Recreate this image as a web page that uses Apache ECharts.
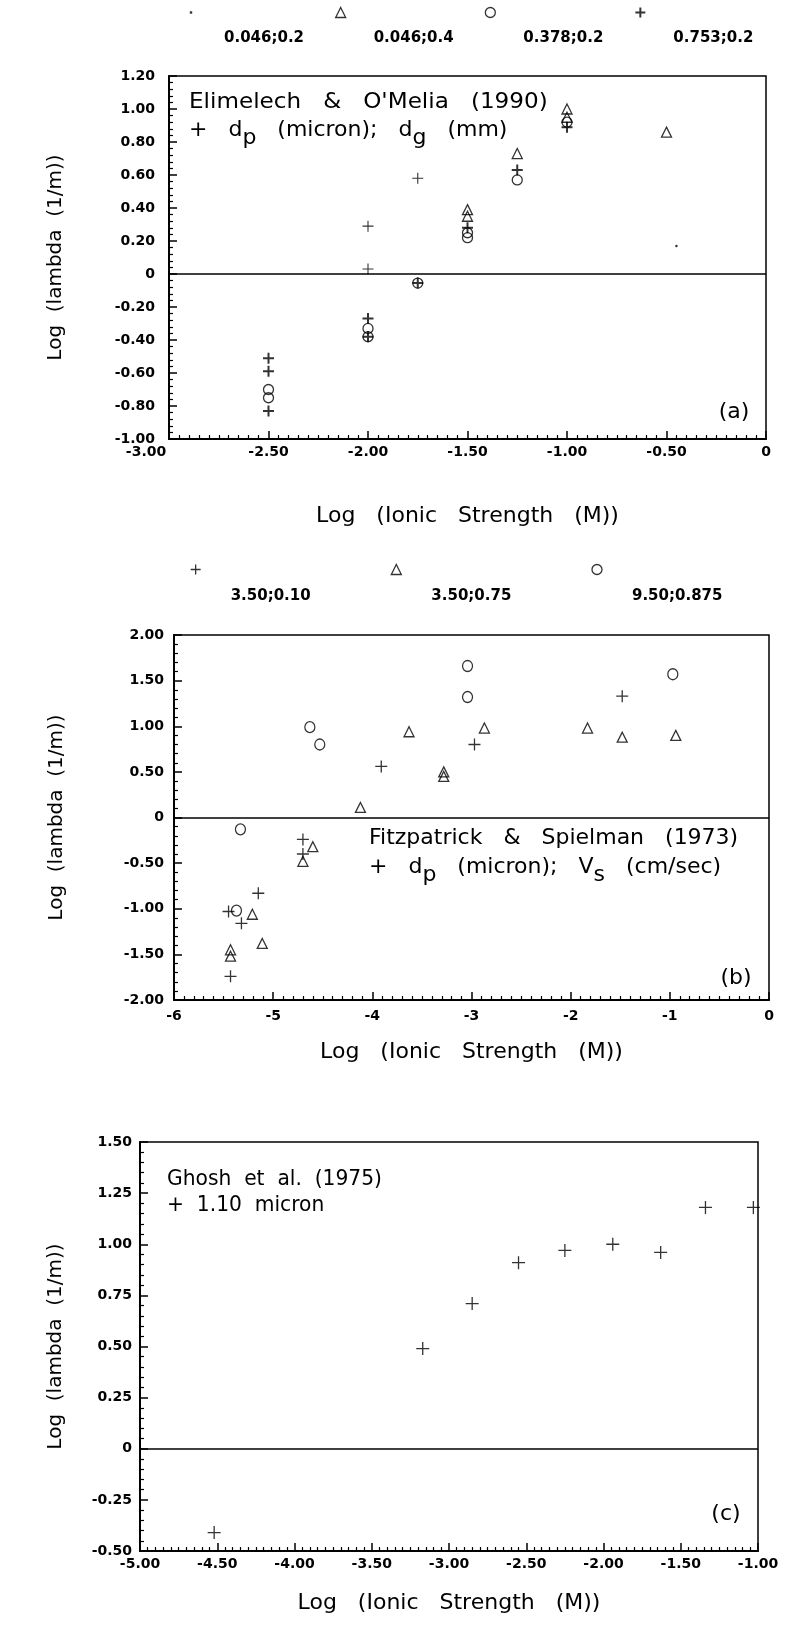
<!DOCTYPE html>
<html><head><meta charset="utf-8">
<script src="https://cdn.jsdelivr.net/npm/echarts@6/dist/echarts.min.js"></script>
<style>html,body{margin:0;padding:0;background:#fff}#c{width:790px;height:1642px}</style>
</head><body><div id="c"></div>
<script>
// ---------- Panel (a): Elimelech & O'Melia (1990) ----------
const aLegend = ['0.046;0.2', '0.046;0.4', '0.378;0.2', '0.753;0.2'];
const aDot = [[-0.45, 0.17]];
const aTri = [[-1.5, 0.39], [-1.5, 0.35], [-1.25, 0.73], [-1.0, 1.00], [-1.0, 0.95], [-0.5, 0.86]];
const aCirc = [[-2.5, -0.70], [-2.5, -0.75], [-2.0, -0.33], [-2.0, -0.38], [-1.75, -0.055], [-1.5, 0.25], [-1.5, 0.22], [-1.25, 0.57], [-1.0, 0.92]];
const aPlus = [[-2.5, -0.51], [-2.5, -0.59], [-2.5, -0.83], [-2.0, -0.27], [-2.0, -0.38], [-1.75, -0.055], [-1.5, 0.28], [-1.25, 0.63], [-1.0, 0.89]];
const aPlusThin = [[-2.0, 0.29], [-2.0, 0.03], [-1.75, 0.58]];
const aXTicks = ['-3.00', '-2.50', '-2.00', '-1.50', '-1.00', '-0.50', '0'];
const aYTicks = ['-1.00', '-0.80', '-0.60', '-0.40', '-0.20', '0', '0.20', '0.40', '0.60', '0.80', '1.00', '1.20'];

// ---------- Panel (b): Fitzpatrick & Spielman (1973) ----------
const bLegend = ['3.50;0.10', '3.50;0.75', '9.50;0.875'];
const bPlus = [[-5.43, -1.74], [-5.45, -1.03], [-5.32, -1.16], [-5.15, -0.83], [-4.70, -0.24], [-4.70, -0.40], [-3.91, 0.56], [-2.97, 0.80], [-1.48, 1.33]];
const bTri = [[-5.43, -1.45], [-5.43, -1.52], [-5.21, -1.06], [-5.11, -1.38], [-4.70, -0.48], [-4.60, -0.32], [-4.12, 0.11], [-3.63, 0.94], [-3.28, 0.50], [-3.28, 0.45], [-2.87, 0.98], [-1.83, 0.98], [-1.48, 0.88], [-0.94, 0.90]];
const bCirc = [[-5.37, -1.02], [-5.33, -0.13], [-4.63, 0.99], [-4.53, 0.80], [-3.04, 1.66], [-3.04, 1.32], [-0.97, 1.57]];
const bXTicks = ['-6', '-5', '-4', '-3', '-2', '-1', '0'];
const bYTicks = ['-2.00', '-1.50', '-1.00', '-0.50', '0', '0.50', '1.00', '1.50', '2.00'];

// ---------- Panel (c): Ghosh et al. (1975) ----------
const cName = '1.10 micron';
const cPlus = [[-4.52, -0.41], [-3.17, 0.49], [-2.85, 0.71], [-2.55, 0.91], [-2.25, 0.97], [-1.94, 1.00], [-1.63, 0.96], [-1.34, 1.18], [-1.03, 1.18]];
const cXTicks = ['-5.00', '-4.50', '-4.00', '-3.50', '-3.00', '-2.50', '-2.00', '-1.50', '-1.00'];
const cYTicks = ['-0.50', '-0.25', '0', '0.25', '0.50', '0.75', '1.00', '1.25', '1.50'];

const xTitle = 'Log   (Ionic   Strength   (M))';
const yTitle = 'Log  (lambda  (1/m))';

// ---------- styling ----------
const BLACK = '#000';
const FONT = 'DejaVu Sans';
const PLUS = 'path://M5,0L5,10M0,5L10,5';
const DOT = 'path://M0,0M10,10M3.8,3.8L6.2,3.8L6.2,6.2L3.8,6.2Z';
const hollow = {color: 'transparent', borderColor: BLACK, borderWidth: 1.3};
const tickFont = {fontFamily: FONT, fontWeight: 'bold', fontSize: 14, color: BLACK};

function fmt(labels, min, interval, shiftFirst) {
  return v => {
    const i = Math.round((v - min) / interval);
    const s = labels[i];
    if (s === undefined) return '';
    return (shiftFirst && i === 0) ? '{l|' + s + '}' : s;
  };
}
function xAx(i, min, max, interval, labels, nameGap, margin, shiftFirst) {
  return {
    type: 'value', gridIndex: i, min, max, interval,
    name: xTitle, nameLocation: 'middle', nameGap,
    nameTextStyle: {fontFamily: FONT, fontSize: 22, color: BLACK},
    axisLine: {show: true, onZero: false, lineStyle: {color: BLACK, width: 2}},
    axisTick: {show: true, inside: true, length: 8, lineStyle: {color: BLACK, width: 1.5}},
    minorTick: {show: true, splitNumber: 10, length: 4, lineStyle: {color: BLACK, width: 1.2}},
    splitLine: {show: false}, minorSplitLine: {show: false},
    axisLabel: Object.assign({show: true, margin, showMinLabel: true, showMaxLabel: true,
      formatter: fmt(labels, min, interval, shiftFirst),
      rich: {l: Object.assign({padding: [0, 46, 0, 0]}, tickFont)}}, tickFont)
  };
}
function yAx(i, min, max, interval, labels, nameGap, margin) {
  return {
    type: 'value', gridIndex: i, min, max, interval,
    name: yTitle, nameLocation: 'middle', nameGap, nameRotate: 90,
    nameTextStyle: {fontFamily: FONT, fontSize: 20, color: BLACK},
    axisLine: {show: true, onZero: false, lineStyle: {color: BLACK, width: 2}},
    axisTick: {show: true, inside: true, length: 8, lineStyle: {color: BLACK, width: 1.5}},
    minorTick: {show: true, splitNumber: 5, length: 4, lineStyle: {color: BLACK, width: 1.2}},
    splitLine: {show: false}, minorSplitLine: {show: false},
    axisLabel: Object.assign({show: true, margin, showMinLabel: true, showMaxLabel: true,
      formatter: fmt(labels, min, interval, false)}, tickFont)
  };
}
const zeroLine = {
  silent: true, symbol: ['none', 'none'], animation: false, label: {show: false},
  lineStyle: {color: BLACK, type: 'solid', width: 1.5}, emphasis: {disabled: true},
  data: [{yAxis: 0}]
};
function sc(name, gi, data, symbol, size, itemStyle, extra) {
  return Object.assign({
    type: 'scatter', name, xAxisIndex: gi, yAxisIndex: gi, data, symbol, symbolSize: size,
    itemStyle, emphasis: {disabled: true}, z: 3
  }, extra || {});
}
const gridBase = {show: true, borderColor: BLACK, borderWidth: 1.5, backgroundColor: 'transparent', containLabel: false, outerBoundsMode: 'none'};
function legendRich(padTop, padLeft) {
  return {color: BLACK, rich: {t: {fontFamily: FONT, fontWeight: 'bold', fontSize: 15, color: BLACK, lineHeight: 18, padding: [padTop, 0, 0, padLeft]}}};
}
const noteFont = {fontFamily: FONT, fontSize: 22, fill: BLACK};
function note(x, y, text, sx) {
  return {type: 'text', x, y, scaleX: sx || 1, silent: true, style: Object.assign({text, verticalAlign: 'middle'}, noteFont)};
}
function subNote(x, y, text) {
  return {type: 'text', x, y, silent: true, style: {
    text, verticalAlign: 'middle',
    rich: {
      n: Object.assign({lineHeight: 26}, noteFont),
      s: Object.assign({lineHeight: 26, padding: [16, 0, 0, 0]}, noteFont)
    }}};
}

const option = {
  animation: false,
  backgroundColor: '#fff',
  textStyle: {fontFamily: FONT, color: BLACK},
  grid: [
    Object.assign({left: 169, top: 76, width: 597, height: 363}, gridBase),
    Object.assign({left: 174, top: 635, width: 595, height: 365}, gridBase),
    Object.assign({left: 140, top: 1142, width: 618, height: 409}, gridBase)
  ],
  xAxis: [
    xAx(0, -3, 0, 0.5, aXTicks, 66, 6, true),
    xAx(1, -6, 0, 1, bXTicks, 41, 9, false),
    xAx(2, -5, -1, 0.5, cXTicks, 41, 6, false)
  ],
  yAxis: [
    yAx(0, -1, 1.2, 0.2, aYTicks, 103, 14),
    yAx(1, -2, 2, 0.5, bYTicks, 107, 10),
    yAx(2, -0.5, 1.5, 0.25, cYTicks, 74, 8)
  ],
  legend: [
    {
      data: aLegend.map((n, k) => ({
        name: n, icon: [DOT, 'triangle', 'circle', PLUS][k],
        itemStyle: k === 0 ? {color: BLACK, borderWidth: 0} : (k === 3 ? {color: BLACK, borderColor: BLACK, borderWidth: 2} : hollow)
      })),
      left: 186, top: -21, padding: 0, orient: 'horizontal',
      itemWidth: 10, itemHeight: 10, itemGap: 31, selectedMode: false,
      formatter: n => '{t|' + n + '}',
      textStyle: legendRich(52, 23)
    },
    {
      data: bLegend.map((n, k) => ({
        name: n, icon: [PLUS, 'triangle', 'circle'][k],
        itemStyle: k === 0 ? {color: BLACK, borderColor: BLACK, borderWidth: 1.3} : hollow
      })),
      left: 190, top: 535, padding: 0, orient: 'horizontal',
      itemWidth: 10, itemHeight: 10, itemGap: 80, selectedMode: false,
      formatter: n => '{t|' + n + '}',
      textStyle: legendRich(54, 25)
    }
  ],
  series: [
    sc(aLegend[0], 0, aDot, 'circle', 2.5, {color: BLACK}, {markLine: zeroLine}),
    sc(aLegend[1], 0, aTri, 'triangle', 10, hollow),
    sc(aLegend[2], 0, aCirc, 'circle', 10, hollow),
    sc(aLegend[3], 0, aPlus, PLUS, 11, {color: BLACK, borderColor: BLACK, borderWidth: 2}),
    sc(aLegend[3], 0, aPlusThin, PLUS, 11, {color: BLACK, borderColor: BLACK, borderWidth: 1.1}),
    sc(bLegend[0], 1, bPlus, PLUS, 12, {color: BLACK, borderColor: BLACK, borderWidth: 1.3}, {markLine: zeroLine}),
    sc(bLegend[1], 1, bTri, 'triangle', 10, hollow),
    sc(bLegend[2], 1, bCirc, 'circle', [10, 11], hollow),
    sc(cName, 2, cPlus, PLUS, 13, {color: BLACK, borderColor: BLACK, borderWidth: 1.3}, {markLine: zeroLine})
  ],
  graphic: [
    note(189, 102, "Elimelech   &   O'Melia   (1990)", 1.05),
    subNote(189, 130, '{n|+   d}{s|p}{n|   (micron);   d}{s|g}{n|   (mm)}'),
    note(369, 838, 'Fitzpatrick   &   Spielman   (1973)'),
    subNote(369, 867, '{n|+   d}{s|p}{n|   (micron);   V}{s|s}{n|   (cm/sec)}'),
    note(167, 1179, 'Ghosh  et  al.  (1975)', 0.92),
    note(167, 1205, '+  1.10  micron', 0.92),
    {type: 'text', x: 734, y: 412, silent: true, style: Object.assign({text: '(a)', align: 'center', verticalAlign: 'middle'}, noteFont)},
    {type: 'text', x: 736, y: 978, silent: true, style: Object.assign({text: '(b)', align: 'center', verticalAlign: 'middle'}, noteFont)},
    {type: 'text', x: 726, y: 1514, silent: true, style: Object.assign({text: '(c)', align: 'center', verticalAlign: 'middle'}, noteFont)}
  ]
};
const chart = echarts.init(document.getElementById('c'), null, {renderer: 'canvas', width: 790, height: 1642});
chart.setOption(option);
</script>
</body></html>
